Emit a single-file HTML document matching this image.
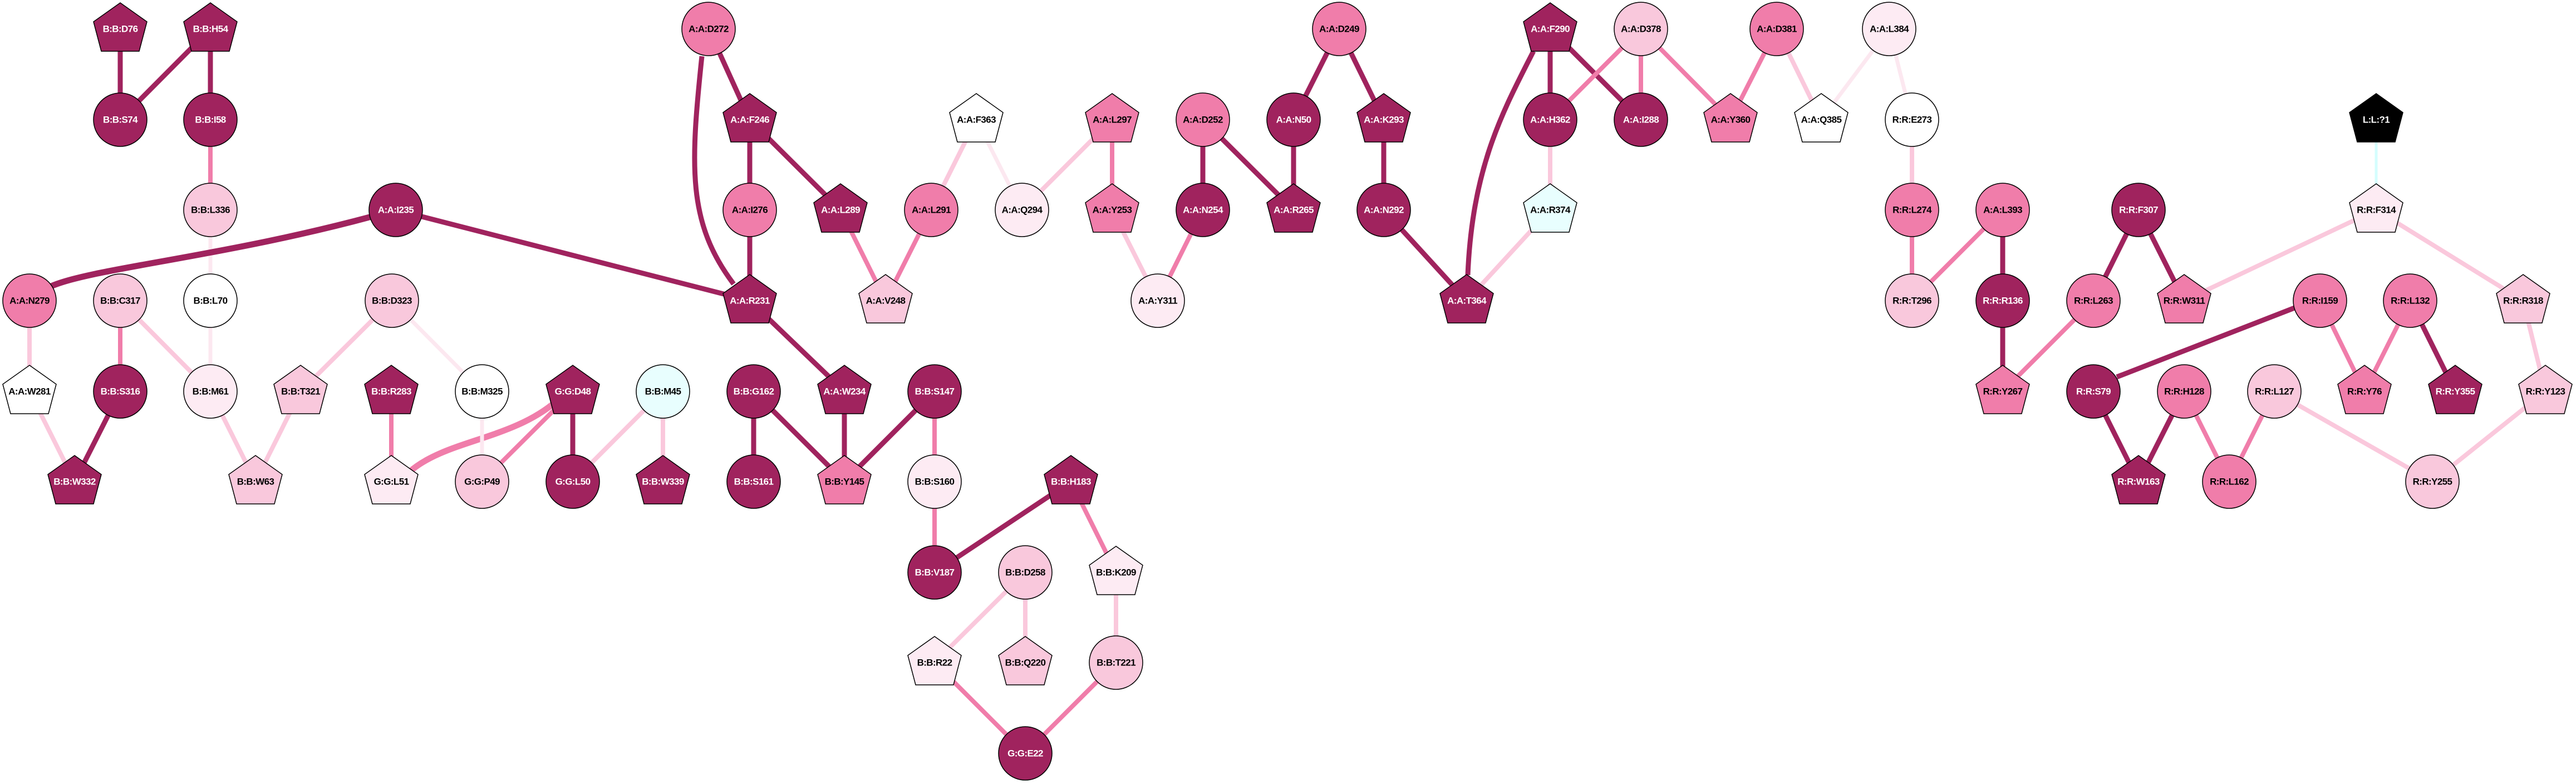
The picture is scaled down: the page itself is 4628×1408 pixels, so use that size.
<!DOCTYPE html>
<html><head><meta charset="utf-8"><style>
html,body{margin:0;padding:0;background:#fff}
svg{display:block}
.d{stroke:#a0235e;stroke-width:9;fill:none}
.m{stroke:#f07daa;stroke-width:8;fill:none}
.l{stroke:#fac8dc;stroke-width:8;fill:none}
.v{stroke:#fce8f0;stroke-width:7;fill:none}
.c{stroke:#d4fefe;stroke-width:5;fill:none}
.D{fill:#a0235e}.M{fill:#f07daa}.L{fill:#f9c8dc}.V{fill:#fdebf3}.W{fill:#fff}.C{fill:#e8fefe}.K{fill:#000}
g.n circle,g.n polygon{stroke:#000;stroke-width:1.5}
text{font-family:"Liberation Sans",sans-serif;font-size:17px;font-weight:bold;text-anchor:middle;dominant-baseline:central;letter-spacing:-0.6px}
.tw{fill:#fff}.tb{fill:#000}
</style></head><body>
<svg width="4628" height="1408" viewBox="0 0 4628 1408" xmlns="http://www.w3.org/2000/svg">
<!-- edges -->
<line class="d" x1="216" y1="52" x2="216" y2="215"/>
<line class="d" x1="378" y1="52" x2="216" y2="215"/>
<line class="d" x1="378" y1="52" x2="378" y2="215"/>
<line class="m" x1="378" y1="215" x2="378" y2="377"/>
<line class="v" x1="378" y1="377" x2="378" y2="540"/>
<path class="d" style="stroke-width:11" d="M711,377 C420,460 170,480 92,514"/>
<line class="d" x1="711" y1="377" x2="1347" y2="540"/>
<line class="l" x1="53" y1="540" x2="53" y2="703"/>
<line class="m" x1="216" y1="540" x2="216" y2="703"/>
<line class="l" x1="216" y1="540" x2="378" y2="703"/>
<line class="v" x1="378" y1="540" x2="378" y2="703"/>
<line class="l" x1="704" y1="540" x2="540" y2="703"/>
<line class="v" x1="704" y1="540" x2="866" y2="703"/>
<line class="l" x1="53" y1="703" x2="134" y2="865"/>
<line class="d" x1="216" y1="703" x2="134" y2="865"/>
<line class="l" x1="378" y1="703" x2="459" y2="865"/>
<line class="l" x1="540" y1="703" x2="459" y2="865"/>
<line class="m" x1="703" y1="703" x2="703" y2="865"/>
<path class="m" style="stroke-width:11" d="M1000,720 C920,790 800,790 735,848"/>
<line class="m" x1="1029" y1="703" x2="866" y2="865"/>
<line class="d" x1="1029" y1="703" x2="1029" y2="865"/>
<line class="v" x1="866" y1="703" x2="866" y2="865"/>
<line class="l" x1="1191" y1="703" x2="1029" y2="865"/>
<line class="l" x1="1191" y1="703" x2="1191" y2="865"/>
<line class="d" x1="1273" y1="52" x2="1347" y2="215"/>
<path class="d" d="M1261,101 C1240,300 1235,400 1318,510"/>
<line class="d" x1="1347" y1="215" x2="1347" y2="377"/>
<line class="d" x1="1347" y1="215" x2="1510" y2="377"/>
<line class="d" x1="1347" y1="377" x2="1347" y2="540"/>
<line class="m" x1="1510" y1="377" x2="1591" y2="540"/>
<line class="m" x1="1673" y1="377" x2="1591" y2="540"/>
<line class="l" x1="1754" y1="215" x2="1673" y2="377"/>
<line class="v" x1="1754" y1="215" x2="1836" y2="377"/>
<line class="l" x1="1998" y1="215" x2="1836" y2="377"/>
<line class="m" x1="1998" y1="215" x2="1998" y2="377"/>
<line class="l" x1="1998" y1="377" x2="2080" y2="540"/>
<line class="m" x1="2161" y1="377" x2="2080" y2="540"/>
<line class="d" x1="2161" y1="215" x2="2161" y2="377"/>
<line class="d" x1="2161" y1="215" x2="2324" y2="377"/>
<line class="d" x1="2324" y1="215" x2="2324" y2="377"/>
<line class="d" x1="1347" y1="540" x2="1517" y2="703"/>
<line class="d" x1="1354" y1="703" x2="1354" y2="865"/>
<line class="d" x1="1354" y1="703" x2="1517" y2="865"/>
<line class="d" x1="1517" y1="703" x2="1517" y2="865"/>
<line class="d" x1="1679" y1="703" x2="1517" y2="865"/>
<line class="m" x1="1679" y1="703" x2="1679" y2="865"/>
<line class="m" x1="1679" y1="865" x2="1679" y2="1028"/>
<line class="d" x1="1924" y1="865" x2="1679" y2="1028"/>
<line class="m" x1="1924" y1="865" x2="2005" y2="1028"/>
<line class="l" x1="1842" y1="1028" x2="1679" y2="1190"/>
<line class="l" x1="1842" y1="1028" x2="1842" y2="1190"/>
<line class="l" x1="2005" y1="1028" x2="2005" y2="1190"/>
<line class="m" x1="1679" y1="1190" x2="1842" y2="1353"/>
<line class="m" x1="2005" y1="1190" x2="1842" y2="1353"/>
<line class="d" x1="2406" y1="52" x2="2324" y2="215"/>
<line class="d" x1="2406" y1="52" x2="2486" y2="215"/>
<line class="d" x1="2486" y1="215" x2="2486" y2="377"/>
<line class="d" x1="2486" y1="377" x2="2635" y2="540"/>
<path class="d" d="M2755,92 C2700,200 2645,300 2637,494"/>
<line class="d" x1="2785" y1="52" x2="2785" y2="215"/>
<line class="d" x1="2785" y1="52" x2="2948" y2="215"/>
<line class="m" x1="2948" y1="52" x2="2785" y2="215"/>
<line class="m" x1="2948" y1="52" x2="2948" y2="215"/>
<line class="m" x1="2948" y1="52" x2="3109" y2="215"/>
<line class="m" x1="3192" y1="52" x2="3109" y2="215"/>
<line class="l" x1="3192" y1="52" x2="3272" y2="215"/>
<line class="v" x1="3394" y1="52" x2="3272" y2="215"/>
<line class="v" x1="3394" y1="52" x2="3435" y2="215"/>
<line class="l" x1="2785" y1="215" x2="2785" y2="377"/>
<line class="l" x1="2785" y1="377" x2="2635" y2="540"/>
<line class="l" x1="3435" y1="215" x2="3435" y2="377"/>
<line class="m" x1="3435" y1="377" x2="3435" y2="540"/>
<line class="m" x1="3598" y1="377" x2="3435" y2="540"/>
<line class="d" x1="3598" y1="377" x2="3598" y2="540"/>
<line class="d" x1="3598" y1="540" x2="3598" y2="703"/>
<line class="m" x1="3761" y1="540" x2="3598" y2="703"/>
<line class="d" x1="3842" y1="377" x2="3761" y2="540"/>
<line class="d" x1="3842" y1="377" x2="3924" y2="540"/>
<line class="l" x1="4269" y1="377" x2="3924" y2="540"/>
<line class="l" x1="4269" y1="377" x2="4533" y2="540"/>
<line class="c" x1="4269" y1="215" x2="4269" y2="377"/>
<path class="d" d="M4122,553 Q3900,640 3803,677"/>
<line class="m" x1="4168" y1="540" x2="4248" y2="703"/>
<line class="m" x1="4330" y1="540" x2="4248" y2="703"/>
<line class="d" x1="4330" y1="540" x2="4411" y2="703"/>
<line class="l" x1="4533" y1="540" x2="4573" y2="703"/>
<line class="d" x1="3761" y1="703" x2="3842" y2="865"/>
<line class="d" x1="3924" y1="703" x2="3842" y2="865"/>
<line class="m" x1="3924" y1="703" x2="4005" y2="865"/>
<line class="m" x1="4086" y1="703" x2="4005" y2="865"/>
<line class="l" x1="4086" y1="703" x2="4370" y2="865"/>
<line class="l" x1="4573" y1="703" x2="4370" y2="865"/>

<!-- nodes -->
<g class="n">
<g transform="translate(216,52)"><polygon class="D" points="0,-47 48,-13 34,40 -34,40 -48,-13"/><text class="tw">B:B:D76</text></g>
<g transform="translate(378,52)"><polygon class="D" points="0,-47 48,-13 34,40 -34,40 -48,-13"/><text class="tw">B:B:H54</text></g>
<g transform="translate(216,215)"><circle class="D" r="48"/><text class="tw">B:B:S74</text></g>
<g transform="translate(378,215)"><circle class="D" r="48"/><text class="tw">B:B:I58</text></g>
<g transform="translate(378,377)"><circle class="L" r="48"/><text class="tb">B:B:L336</text></g>
<g transform="translate(711,377)"><circle class="D" r="48"/><text class="tw">A:A:I235</text></g>
<g transform="translate(53,540)"><circle class="M" r="48"/><text class="tb">A:A:N279</text></g>
<g transform="translate(216,540)"><circle class="L" r="48"/><text class="tb">B:B:C317</text></g>
<g transform="translate(378,540)"><circle class="W" r="48"/><text class="tb">B:B:L70</text></g>
<g transform="translate(704,540)"><circle class="L" r="48"/><text class="tb">B:B:D323</text></g>
<g transform="translate(53,703)"><polygon class="W" points="0,-47 48,-13 34,40 -34,40 -48,-13"/><text class="tb">A:A:W281</text></g>
<g transform="translate(216,703)"><circle class="D" r="48"/><text class="tw">B:B:S316</text></g>
<g transform="translate(378,703)"><circle class="V" r="48"/><text class="tb">B:B:M61</text></g>
<g transform="translate(540,703)"><polygon class="L" points="0,-47 48,-13 34,40 -34,40 -48,-13"/><text class="tb">B:B:T321</text></g>
<g transform="translate(703,703)"><polygon class="D" points="0,-47 48,-13 34,40 -34,40 -48,-13"/><text class="tw">B:B:R283</text></g>
<g transform="translate(866,703)"><circle class="W" r="48"/><text class="tb">B:B:M325</text></g>
<g transform="translate(1029,703)"><polygon class="D" points="0,-47 48,-13 34,40 -34,40 -48,-13"/><text class="tw">G:G:D48</text></g>
<g transform="translate(1191,703)"><circle class="C" r="48"/><text class="tb">B:B:M45</text></g>
<g transform="translate(134,865)"><polygon class="D" points="0,-47 48,-13 34,40 -34,40 -48,-13"/><text class="tw">B:B:W332</text></g>
<g transform="translate(459,865)"><polygon class="L" points="0,-47 48,-13 34,40 -34,40 -48,-13"/><text class="tb">B:B:W63</text></g>
<g transform="translate(703,865)"><polygon class="V" points="0,-47 48,-13 34,40 -34,40 -48,-13"/><text class="tb">G:G:L51</text></g>
<g transform="translate(866,865)"><circle class="L" r="48"/><text class="tb">G:G:P49</text></g>
<g transform="translate(1029,865)"><circle class="D" r="48"/><text class="tw">G:G:L50</text></g>
<g transform="translate(1191,865)"><polygon class="D" points="0,-47 48,-13 34,40 -34,40 -48,-13"/><text class="tw">B:B:W339</text></g>
<g transform="translate(1273,52)"><circle class="M" r="48"/><text class="tb">A:A:D272</text></g>
<g transform="translate(1347,215)"><polygon class="D" points="0,-47 48,-13 34,40 -34,40 -48,-13"/><text class="tw">A:A:F246</text></g>
<g transform="translate(1347,377)"><circle class="M" r="48"/><text class="tb">A:A:I276</text></g>
<g transform="translate(1510,377)"><polygon class="D" points="0,-47 48,-13 34,40 -34,40 -48,-13"/><text class="tw">A:A:L289</text></g>
<g transform="translate(1673,377)"><circle class="M" r="48"/><text class="tb">A:A:L291</text></g>
<g transform="translate(1754,215)"><polygon class="W" points="0,-47 48,-13 34,40 -34,40 -48,-13"/><text class="tb">A:A:F363</text></g>
<g transform="translate(1836,377)"><circle class="V" r="48"/><text class="tb">A:A:Q294</text></g>
<g transform="translate(1998,215)"><polygon class="M" points="0,-47 48,-13 34,40 -34,40 -48,-13"/><text class="tb">A:A:L297</text></g>
<g transform="translate(1998,377)"><polygon class="M" points="0,-47 48,-13 34,40 -34,40 -48,-13"/><text class="tb">A:A:Y253</text></g>
<g transform="translate(2161,215)"><circle class="M" r="48"/><text class="tb">A:A:D252</text></g>
<g transform="translate(2324,215)"><circle class="D" r="48"/><text class="tw">A:A:N50</text></g>
<g transform="translate(2161,377)"><circle class="D" r="48"/><text class="tw">A:A:N254</text></g>
<g transform="translate(2324,377)"><polygon class="D" points="0,-47 48,-13 34,40 -34,40 -48,-13"/><text class="tw">A:A:R265</text></g>
<g transform="translate(1347,540)"><polygon class="D" points="0,-47 48,-13 34,40 -34,40 -48,-13"/><text class="tw">A:A:R231</text></g>
<g transform="translate(1591,540)"><polygon class="L" points="0,-47 48,-13 34,40 -34,40 -48,-13"/><text class="tb">A:A:V248</text></g>
<g transform="translate(2080,540)"><circle class="V" r="48"/><text class="tb">A:A:Y311</text></g>
<g transform="translate(1517,703)"><polygon class="D" points="0,-47 48,-13 34,40 -34,40 -48,-13"/><text class="tw">A:A:W234</text></g>
<g transform="translate(1354,703)"><circle class="D" r="48"/><text class="tw">B:B:G162</text></g>
<g transform="translate(1679,703)"><circle class="D" r="48"/><text class="tw">B:B:S147</text></g>
<g transform="translate(1354,865)"><circle class="D" r="48"/><text class="tw">B:B:S161</text></g>
<g transform="translate(1517,865)"><polygon class="M" points="0,-47 48,-13 34,40 -34,40 -48,-13"/><text class="tb">B:B:Y145</text></g>
<g transform="translate(1679,865)"><circle class="V" r="48"/><text class="tb">B:B:S160</text></g>
<g transform="translate(1924,865)"><polygon class="D" points="0,-47 48,-13 34,40 -34,40 -48,-13"/><text class="tw">B:B:H183</text></g>
<g transform="translate(1679,1028)"><circle class="D" r="48"/><text class="tw">B:B:V187</text></g>
<g transform="translate(1842,1028)"><circle class="L" r="48"/><text class="tb">B:B:D258</text></g>
<g transform="translate(2005,1028)"><polygon class="V" points="0,-47 48,-13 34,40 -34,40 -48,-13"/><text class="tb">B:B:K209</text></g>
<g transform="translate(1679,1190)"><polygon class="V" points="0,-47 48,-13 34,40 -34,40 -48,-13"/><text class="tb">B:B:R22</text></g>
<g transform="translate(1842,1190)"><polygon class="L" points="0,-47 48,-13 34,40 -34,40 -48,-13"/><text class="tb">B:B:Q220</text></g>
<g transform="translate(2005,1190)"><circle class="L" r="48"/><text class="tb">B:B:T221</text></g>
<g transform="translate(1842,1353)"><circle class="D" r="48"/><text class="tw">G:G:E22</text></g>
<g transform="translate(2406,52)"><circle class="M" r="48"/><text class="tb">A:A:D249</text></g>
<g transform="translate(2486,215)"><polygon class="D" points="0,-47 48,-13 34,40 -34,40 -48,-13"/><text class="tw">A:A:K293</text></g>
<g transform="translate(2486,377)"><circle class="D" r="48"/><text class="tw">A:A:N292</text></g>
<g transform="translate(2635,540)"><polygon class="D" points="0,-47 48,-13 34,40 -34,40 -48,-13"/><text class="tw">A:A:T364</text></g>
<g transform="translate(2785,52)"><polygon class="D" points="0,-47 48,-13 34,40 -34,40 -48,-13"/><text class="tw">A:A:F290</text></g>
<g transform="translate(2948,52)"><circle class="L" r="48"/><text class="tb">A:A:D378</text></g>
<g transform="translate(2785,215)"><circle class="D" r="48"/><text class="tw">A:A:H362</text></g>
<g transform="translate(2948,215)"><circle class="D" r="48"/><text class="tw">A:A:I288</text></g>
<g transform="translate(2785,377)"><polygon class="C" points="0,-47 48,-13 34,40 -34,40 -48,-13"/><text class="tb">A:A:R374</text></g>
<g transform="translate(3192,52)"><circle class="M" r="48"/><text class="tb">A:A:D381</text></g>
<g transform="translate(3109,215)"><polygon class="M" points="0,-47 48,-13 34,40 -34,40 -48,-13"/><text class="tb">A:A:Y360</text></g>
<g transform="translate(3394,52)"><circle class="V" r="48"/><text class="tb">A:A:L384</text></g>
<g transform="translate(3272,215)"><polygon class="W" points="0,-47 48,-13 34,40 -34,40 -48,-13"/><text class="tb">A:A:Q385</text></g>
<g transform="translate(3435,215)"><circle class="W" r="48"/><text class="tb">R:R:E273</text></g>
<g transform="translate(3435,377)"><circle class="M" r="48"/><text class="tb">R:R:L274</text></g>
<g transform="translate(3435,540)"><circle class="L" r="48"/><text class="tb">R:R:T296</text></g>
<g transform="translate(3598,377)"><circle class="M" r="48"/><text class="tb">A:A:L393</text></g>
<g transform="translate(3598,540)"><circle class="D" r="48"/><text class="tw">R:R:R136</text></g>
<g transform="translate(3598,703)"><polygon class="M" points="0,-47 48,-13 34,40 -34,40 -48,-13"/><text class="tb">R:R:Y267</text></g>
<g transform="translate(3842,377)"><circle class="D" r="48"/><text class="tw">R:R:F307</text></g>
<g transform="translate(3761,540)"><circle class="M" r="48"/><text class="tb">R:R:L263</text></g>
<g transform="translate(3924,540)"><polygon class="M" points="0,-47 48,-13 34,40 -34,40 -48,-13"/><text class="tb">R:R:W311</text></g>
<g transform="translate(4269,215)"><polygon class="K" points="0,-47 48,-13 34,40 -34,40 -48,-13"/><text class="tw">L:L:?1</text></g>
<g transform="translate(4269,377)"><polygon class="V" points="0,-47 48,-13 34,40 -34,40 -48,-13"/><text class="tb">R:R:F314</text></g>
<g transform="translate(4168,540)"><circle class="M" r="48"/><text class="tb">R:R:I159</text></g>
<g transform="translate(4330,540)"><circle class="M" r="48"/><text class="tb">R:R:L132</text></g>
<g transform="translate(4533,540)"><polygon class="L" points="0,-47 48,-13 34,40 -34,40 -48,-13"/><text class="tb">R:R:R318</text></g>
<g transform="translate(3761,703)"><circle class="D" r="48"/><text class="tw">R:R:S79</text></g>
<g transform="translate(3924,703)"><circle class="M" r="48"/><text class="tb">R:R:H128</text></g>
<g transform="translate(4086,703)"><circle class="L" r="48"/><text class="tb">R:R:L127</text></g>
<g transform="translate(4248,703)"><polygon class="M" points="0,-47 48,-13 34,40 -34,40 -48,-13"/><text class="tb">R:R:Y76</text></g>
<g transform="translate(4411,703)"><polygon class="D" points="0,-47 48,-13 34,40 -34,40 -48,-13"/><text class="tw">R:R:Y355</text></g>
<g transform="translate(4573,703)"><polygon class="L" points="0,-47 48,-13 34,40 -34,40 -48,-13"/><text class="tb">R:R:Y123</text></g>
<g transform="translate(3842,865)"><polygon class="D" points="0,-47 48,-13 34,40 -34,40 -48,-13"/><text class="tw">R:R:W163</text></g>
<g transform="translate(4005,865)"><circle class="M" r="48"/><text class="tb">R:R:L162</text></g>
<g transform="translate(4370,865)"><circle class="L" r="48"/><text class="tb">R:R:Y255</text></g>
</g>
</svg>
</body></html>
